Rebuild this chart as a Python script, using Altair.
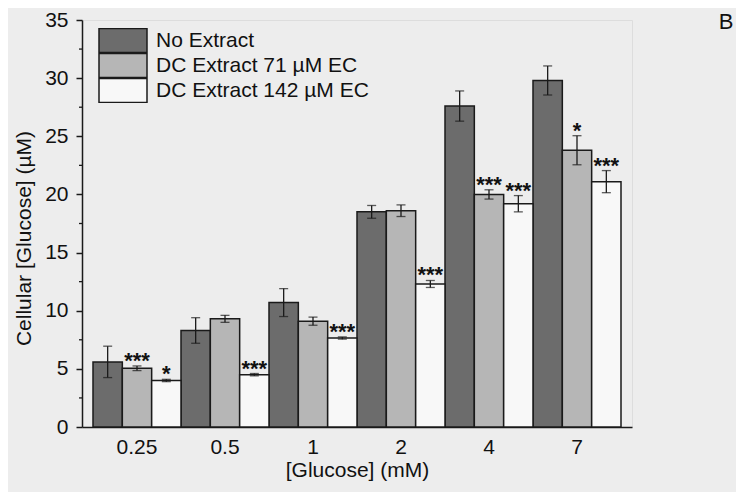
import altair as alt
import pandas as pd

# ---- data ----
conc = ["0.25", "0.5", "1", "2", "4", "7"]
series = ["No Extract", "DC Extract 71 \u00b5M EC", "DC Extract 142 \u00b5M EC"]

no_extract = [5.6, 8.3, 10.7, 18.5, 27.6, 29.8]
no_extract_err = [1.35, 1.1, 1.2, 0.55, 1.3, 1.25]
dc71 = [5.05, 9.3, 9.1, 18.6, 20.0, 23.8]
dc71_err = [0.2, 0.3, 0.35, 0.5, 0.4, 1.25]
dc142 = [4.0, 4.5, 7.65, 12.3, 19.2, 21.1]
dc142_err = [0.1, 0.1, 0.1, 0.3, 0.7, 0.95]

no_extract_sig = ["", "", "", "", "", ""]
dc71_sig = ["***", "", "", "", "***", "*"]
dc142_sig = ["*", "***", "***", "***", "***", "***"]

y_ticks = [0, 5, 10, 15, 20, 25, 30, 35]
y_minor = [2.5, 7.5, 12.5, 17.5, 22.5, 27.5, 32.5]
panel_label = ["B"]

colors = ["#6c6c6c", "#b6b6b6", "#f8f8f8"]

rows = []
for s, vals, errs, sig in [
    (series[0], no_extract, no_extract_err, no_extract_sig),
    (series[1], dc71, dc71_err, dc71_sig),
    (series[2], dc142, dc142_err, dc142_sig),
]:
    for c, v, e, st in zip(conc, vals, errs, sig):
        rows.append({"conc": c, "series": s, "mean": v, "lo": v - e, "hi": v + e, "sig": st})
df = pd.DataFrame(rows)
minor_df = pd.DataFrame({"mean": y_minor})

FONT = "Liberation Sans"
Y_TITLE = "Cellular [Glucose] (\u00b5M)"
X_TITLE = "[Glucose] (mM)"

x_axis = alt.Axis(labelAngle=0, ticks=False, labelPadding=9, titlePadding=2,
                  labelFontSize=21, titleFontSize=21, titleFontWeight="normal",
                  domainColor="#1a1a1a", domainWidth=1.5, labelColor="#111",
                  titleColor="#111", grid=False)
y_axis = alt.Axis(values=y_ticks, tickSize=6, tickWidth=1.5, tickColor="#1a1a1a",
                  labelPadding=8, labelFontSize=21, titleFontSize=21,
                  titleFontWeight="normal", titlePadding=10, titleY=218,
                  domainColor="#1a1a1a", domainWidth=1.5, grid=False,
                  labelColor="#111", titleColor="#111")
y_scale = alt.Scale(domain=[0, 35], nice=False)


def X():
    return alt.X("conc:N", sort=conc, title=X_TITLE,
                 scale=alt.Scale(paddingInner=0, paddingOuter=0.125), axis=x_axis)


def Y(field):
    return alt.Y(f"{field}:Q", scale=y_scale, title=Y_TITLE, axis=y_axis)


xoff = alt.XOffset("series:N", sort=series, scale=alt.Scale(paddingInner=0, paddingOuter=0))

base = alt.Chart(df)

bars = base.mark_bar(stroke="#1a1a1a", strokeWidth=1.5).encode(
    x=X(),
    xOffset=xoff,
    y=Y("mean"),
    color=alt.Color("series:N", sort=series,
                    scale=alt.Scale(domain=series, range=colors),
                    legend=alt.Legend(title=None, orient="none", legendX=16, legendY=8,
                                      symbolType="M-1,-0.5H1V0.5H-1Z", symbolSize=2304,
                                      symbolStrokeColor="#1a1a1a", symbolStrokeWidth=1.5,
                                      symbolOpacity=1, clipHeight=25, rowPadding=0,
                                      labelFontSize=21, labelOffset=8, labelColor="#111",
                                      labelLimit=400, padding=0)),
)

err_rule = base.mark_rule(color="#1a1a1a", strokeWidth=1.3).encode(
    x=X(), xOffset=xoff, y=Y("lo"), y2="hi:Q",
)
cap_hi = base.mark_tick(color="#1a1a1a", thickness=1.3, size=9, orient="horizontal").encode(
    x=X(), xOffset=xoff, y=Y("hi"),
)
cap_lo = base.mark_tick(color="#1a1a1a", thickness=1.3, size=9, orient="horizontal").encode(
    x=X(), xOffset=xoff, y=Y("lo"),
)
stars = base.mark_text(fontSize=22, fontWeight="bold", color="#111", dy=-5, font=FONT).encode(
    x=X(), xOffset=xoff, y=Y("hi"), text="sig:N",
)

minor = alt.Chart(minor_df).mark_rule(color="#1a1a1a", strokeWidth=1.3).encode(
    y=Y("mean"), x=alt.value(-3), x2=alt.value(0),
)

label_b = alt.Chart(pd.DataFrame({"t": panel_label})).mark_text(
    fontSize=22, color="#111", font=FONT, align="center", baseline="alphabetic"
).encode(text="t:N", x=alt.value(644), y=alt.value(9))

chart = alt.layer(bars, err_rule, cap_hi, cap_lo, stars, minor, label_b).properties(
    width=550, height=407,
    autosize=alt.AutoSizeParams(type="none"),
    padding={"left": 74, "top": 12, "right": 104, "bottom": 65},
    background="#ededed",
).configure_view(stroke=None).configure(font=FONT)

chart.save("out.html", embed_options={"renderer": "svg", "actions": False})
